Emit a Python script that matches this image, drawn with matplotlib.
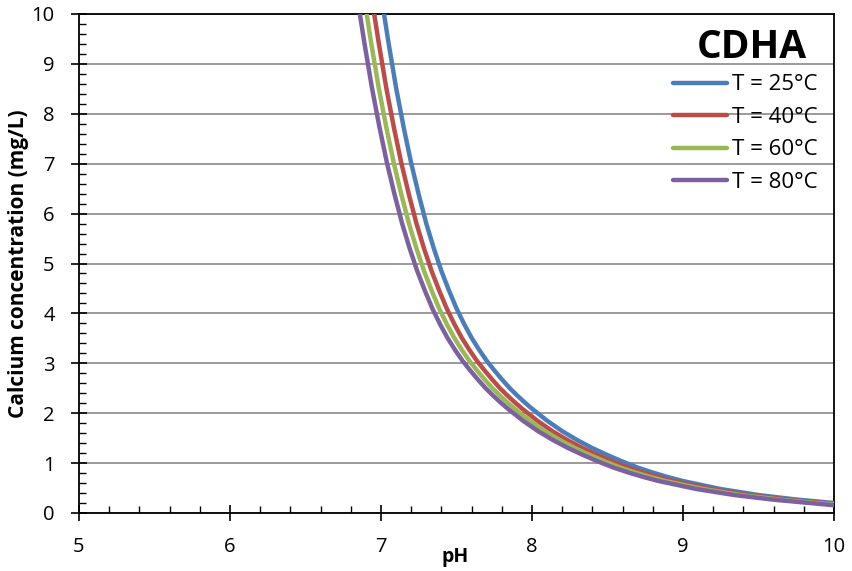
import matplotlib
matplotlib.use("Agg")
import matplotlib.pyplot as plt
from matplotlib.ticker import MultipleLocator

plt.rcParams['font.family'] = ['Open Sans', 'DejaVu Sans']

labels = ["T = 25°C", "T = 40°C", "T = 60°C", "T = 80°C"]
colors = ["#4A7EBB", "#BE4B48", "#98B954", "#7D60A0"]

ph_25 = [7.02, 7.05, 7.10, 7.15, 7.20, 7.25, 7.30, 7.35, 7.40, 7.45, 7.50, 7.55,
         7.60, 7.65, 7.70, 7.75, 7.80, 7.85, 7.90, 7.95, 8.00, 8.10, 8.20, 8.30,
         8.40, 8.50, 8.60, 8.70, 8.80, 8.90, 9.00, 9.25, 9.50, 9.75, 10.0]
ca_25 = [10.0, 9.42, 8.52, 7.73, 7.01, 6.38, 5.80, 5.30, 4.85, 4.46, 4.10, 3.79,
         3.51, 3.27, 3.05, 2.86, 2.68, 2.51, 2.36, 2.22, 2.09, 1.85, 1.64, 1.46,
         1.30, 1.16, 1.03, 0.91, 0.81, 0.72, 0.64, 0.48, 0.36, 0.27, 0.20]

ph_40 = [6.955, 6.985, 7.035, 7.085, 7.135, 7.185, 7.235, 7.285, 7.335, 7.385, 7.435, 7.485,
         7.535, 7.585, 7.635, 7.685, 7.735, 7.785, 7.835, 7.885, 7.935, 8.035, 8.135, 8.235,
         8.335, 8.435, 8.535, 8.635, 8.735, 8.835, 8.935, 9.185, 9.435, 9.685, 9.935, 10.0]
ca_40 = [10.0, 9.42, 8.52, 7.73, 7.01, 6.38, 5.80, 5.30, 4.85, 4.46, 4.10, 3.79,
         3.51, 3.27, 3.05, 2.86, 2.68, 2.51, 2.36, 2.22, 2.09, 1.85, 1.64, 1.46,
         1.30, 1.16, 1.03, 0.91, 0.81, 0.72, 0.64, 0.48, 0.36, 0.27, 0.20, 0.184]

ph_60 = [6.905, 6.935, 6.985, 7.035, 7.085, 7.135, 7.185, 7.235, 7.285, 7.335, 7.385, 7.435,
         7.485, 7.535, 7.585, 7.635, 7.685, 7.735, 7.785, 7.835, 7.885, 7.985, 8.085, 8.185,
         8.285, 8.385, 8.485, 8.585, 8.685, 8.785, 8.885, 9.135, 9.385, 9.635, 9.885, 10.0]
ca_60 = [10.0, 9.42, 8.52, 7.73, 7.01, 6.38, 5.80, 5.30, 4.85, 4.46, 4.10, 3.79,
         3.51, 3.27, 3.05, 2.86, 2.68, 2.51, 2.36, 2.22, 2.09, 1.85, 1.64, 1.46,
         1.30, 1.16, 1.03, 0.91, 0.81, 0.72, 0.64, 0.48, 0.36, 0.27, 0.20, 0.173]

ph_80 = [6.86, 6.89, 6.94, 6.99, 7.04, 7.09, 7.14, 7.19, 7.24, 7.29, 7.34, 7.39,
         7.44, 7.49, 7.54, 7.59, 7.64, 7.69, 7.74, 7.79, 7.84, 7.94, 8.04, 8.14,
         8.24, 8.34, 8.44, 8.54, 8.64, 8.74, 8.84, 9.09, 9.34, 9.59, 9.84, 10.0]
ca_80 = [10.0, 9.42, 8.52, 7.73, 7.01, 6.38, 5.80, 5.30, 4.85, 4.46, 4.10, 3.79,
         3.51, 3.27, 3.05, 2.86, 2.68, 2.51, 2.36, 2.22, 2.09, 1.85, 1.64, 1.46,
         1.30, 1.16, 1.03, 0.91, 0.81, 0.72, 0.64, 0.48, 0.36, 0.27, 0.20, 0.155]

series = [(ph_25, ca_25), (ph_40, ca_40), (ph_60, ca_60), (ph_80, ca_80)]

fig = plt.figure(figsize=(8.53, 5.71), dpi=100)
ax = fig.add_axes([79/853, 1-513/571, (834-79)/853, (513-14)/571])

for (x, y), c, lab in zip(series, colors, labels):
    ax.plot(x, y, color=c, lw=3.2, label=lab, solid_capstyle='round',
            solid_joinstyle='round', zorder=3)

ax.set_xlim(5, 10)
ax.set_ylim(0, 10)
ax.xaxis.set_major_locator(MultipleLocator(1))
ax.xaxis.set_minor_locator(MultipleLocator(0.2))
ax.yaxis.set_major_locator(MultipleLocator(1))
ax.yaxis.set_minor_locator(MultipleLocator(0.2))
ax.grid(axis='y', which='major', color='#898989', lw=1.2, zorder=1)
ax.set_axisbelow(True)

ax.tick_params(which='major', direction='inout', length=11, width=1.2, labelsize=14.5, color='black')
ax.tick_params(which='minor', direction='in', length=5, width=1.0, color='black')
ax.tick_params(axis='x', which='major', pad=12)
ax.tick_params(axis='y', which='major', pad=12)
for s in ax.spines.values():
    s.set_color('black')
    s.set_linewidth(1.3)

ax.set_xlabel("pH", fontsize=14, fontweight='bold')
ax.xaxis.set_label_coords((455-79)/755, -0.068)
ax.set_ylabel("Calcium concentration (mg/L)", fontsize=15, fontweight='bold')
ax.yaxis.set_label_coords(-0.066, 0.5)

ax.text(0.891, 0.932, "CDHA", transform=ax.transAxes, fontsize=28, fontweight='bold',
        ha='center', va='center')

leg = ax.legend(loc='upper left', bbox_to_anchor=((673-79)/755, 0.879), frameon=False,
                fontsize=16, handlelength=2.45, handletextpad=0.2, labelspacing=0.52,
                borderaxespad=0, borderpad=0)

fig.savefig("out.png", dpi=100)
